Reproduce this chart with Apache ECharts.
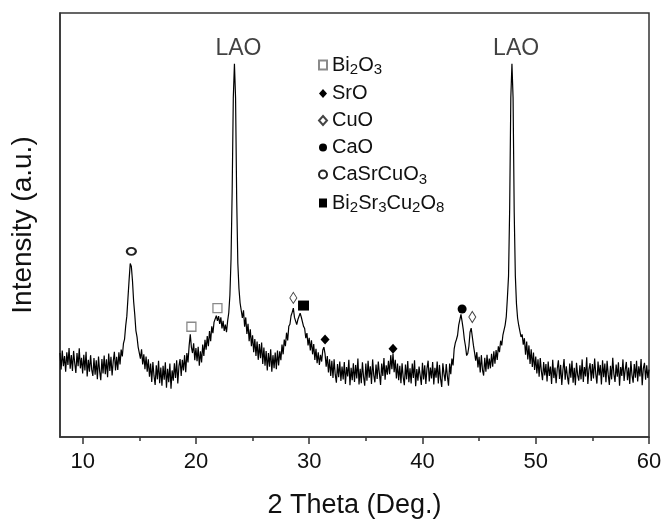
<!DOCTYPE html>
<html>
<head>
<meta charset="utf-8">
<script src="https://cdn.jsdelivr.net/npm/echarts@6/dist/echarts.min.js"></script>
<style>
html,body{margin:0;padding:0;background:#fff;}
#chart{width:666px;height:524px;}
</style>
</head>
<body>
<div id="chart"></div>
<script>
// ---- Data ----
const twoThetaStart = 8.0;
const twoThetaStep = 0.1;
// intensity (a.u.), one value every 0.1 deg from 8.0 to 60.0
const intensity = [
  /* 8 */ 19.8,15.9,20.4,16.7,19.1,15.4,20.0,17.0,21.0,16.1,
  /* 9 */ 19.3,15.6,20.3,17.4,15.1,19.8,16.7,20.9,16.2,18.7,
  /*10 */ 15.0,19.4,15.7,20.1,14.3,18.2,15.4,19.3,15.9,14.4,
  /*11 */ 18.6,14.7,18.1,13.6,19.0,15.5,13.4,18.4,15.0,19.2,
  /*12 */ 14.8,18.3,14.1,19.7,15.6,18.9,14.5,17.8,20.1,15.7,
  /*13 */ 18.9,15.8,20.0,17.1,20.6,19.0,22.0,23.1,26.2,28.5,
  /*14 */ 32.8,37.0,40.9,40.2,36.8,32.0,28.9,25.1,23.6,21.2,
  /*15 */ 21.2,18.5,20.7,17.1,19.5,16.0,19.0,15.4,18.3,14.2,
  /*16 */ 17.3,13.0,17.7,14.4,12.3,16.9,13.6,18.0,12.7,16.4,
  /*17 */ 12.1,16.8,13.5,17.6,11.6,16.1,12.9,17.3,11.4,15.7,
  /*18 */ 13.3,17.4,13.9,18.1,12.6,16.7,18.4,14.4,18.2,15.7,
  /*19 */ 19.3,15.3,19.8,17.6,21.5,24.2,21.2,19.8,22.1,18.1,
  /*20 */ 21.0,17.9,21.3,16.8,20.2,17.6,21.8,19.1,22.9,20.6,
  /*21 */ 23.8,21.4,25.0,22.6,26.1,24.5,27.1,26.9,28.6,27.4,
  /*22 */ 28.5,26.7,28.2,25.6,27.4,25.0,26.5,24.7,27.4,29.3,
  /*23 */ 33.5,42.0,58.0,80.0,88.0,80.0,56.0,41.0,35.0,31.6,
  /*24 */ 31.4,28.1,29.9,26.0,28.2,24.3,26.7,22.6,25.4,21.4,
  /*25 */ 24.0,20.0,23.1,19.1,22.5,18.2,21.9,18.6,22.3,17.2,
  /*26 */ 21.1,16.8,20.3,15.7,19.8,16.6,20.7,15.4,19.3,16.2,
  /*27 */ 19.9,16.0,20.4,16.9,20.2,18.1,21.8,19.5,23.0,21.4,
  /*28 */ 24.6,22.8,26.1,26.6,28.6,29.4,30.4,28.2,27.9,26.5,
  /*29 */ 27.7,27.7,29.2,28.3,28.6,26.1,25.6,23.3,24.5,21.6,
  /*30 */ 23.4,20.4,22.8,19.5,21.9,18.2,20.8,17.4,20.0,17.0,
  /*31 */ 19.4,17.8,20.5,21.2,19.6,16.6,19.1,15.2,18.3,14.4,
  /*32 */ 18.0,13.9,18.3,14.7,12.8,17.2,14.1,17.8,13.2,16.6,
  /*33 */ 13.6,17.7,12.5,16.5,14.3,18.2,12.2,16.3,13.4,17.4,
  /*34 */ 13.0,17.0,13.8,18.5,12.4,16.1,12.7,17.6,14.2,12.1,
  /*35 */ 17.3,13.3,18.0,14.0,16.7,12.5,18.3,14.6,12.9,17.1,
  /*36 */ 13.7,17.8,14.9,12.3,17.3,14.4,18.6,13.5,16.9,14.7,
  /*37 */ 18.0,14.8,19.3,16.0,19.7,15.3,18.2,13.8,17.3,13.4,
  /*38 */ 16.8,12.7,17.4,14.1,12.2,17.1,13.6,17.9,12.9,16.2,
  /*39 */ 12.6,17.3,13.9,18.1,12.0,16.0,13.3,16.6,14.5,12.3,
  /*40 */ 17.5,13.6,16.9,12.5,16.2,18.0,13.1,16.4,13.8,17.7,
  /*41 */ 12.4,16.3,14.0,17.8,12.6,17.0,13.7,11.8,17.4,14.9,
  /*42 */ 13.2,17.2,14.3,12.1,17.3,14.8,18.5,16.9,20.8,22.2,
  /*43 */ 23.0,24.0,26.4,26.8,28.9,27.2,25.4,23.0,21.4,19.2,
  /*44 */ 19.7,21.4,24.7,25.7,25.8,21.6,19.9,18.0,20.0,16.4,
  /*45 */ 18.9,15.2,19.3,15.8,14.5,18.7,15.4,19.4,16.0,18.5,
  /*46 */ 16.2,19.6,16.6,20.2,17.3,20.5,18.2,21.4,20.0,22.7,
  /*47 */ 21.6,24.0,23.8,26.4,28.4,32.9,38.0,54.0,80.0,88.0,
  /*48 */ 80.0,53.0,38.0,31.4,28.0,26.3,26.0,23.6,24.2,21.8,
  /*49 */ 23.3,19.4,22.5,18.3,21.6,17.2,20.7,16.5,19.9,15.8,
  /*50 */ 19.0,15.0,18.3,14.2,18.6,15.5,13.4,17.7,14.5,17.2,
  /*51 */ 13.1,17.8,14.4,16.6,12.5,18.2,13.9,16.4,12.7,16.1,
  /*52 */ 18.1,13.7,17.0,12.3,15.8,18.4,13.5,16.7,14.2,12.4,
  /*53 */ 17.3,14.0,18.0,12.8,16.3,12.2,17.5,14.6,13.3,16.9,
  /*54 */ 13.6,18.3,13.0,16.5,14.3,18.8,12.5,16.0,17.4,13.2,
  /*55 */ 17.2,13.8,18.5,14.9,12.6,17.8,14.5,17.0,12.4,18.1,
  /*56 */ 14.1,17.3,12.9,18.0,14.7,12.3,16.8,13.6,18.7,14.8,
  /*57 */ 13.0,17.1,14.2,17.6,12.1,16.5,14.4,18.3,13.2,15.9,
  /*58 */ 17.7,13.4,16.4,12.5,17.9,14.6,12.8,17.2,14.0,18.0,
  /*59 */ 13.1,16.7,14.3,18.4,12.2,16.2,17.5,13.5,16.9,13.9,
  /*60 */ 15.9
];

// Phase markers [2theta, intensity]
const phaseNames = ['Bi2O3', 'SrO', 'CuO', 'CaO', 'CaSrCuO3', 'Bi2Sr3Cu2O8'];
const bi2o3Marks = [[19.6, 26.0], [21.9, 30.4]];
const sroMarks = [[31.4, 23.0], [37.4, 20.8]];
const cuoMarks = [[28.6, 32.8], [44.4, 28.3]];
const caoMarks = [[43.5, 30.2]];
const caSrCuO3Marks = [[14.3, 43.8]];
const bi2Sr3Cu2O8Marks = [[29.5, 31.0]];

// LAO substrate labels [2theta, intensity]
const laoLabels = [[23.75, 91.5], [48.27, 91.5]];

// Axis ticks
const xMajorTicks = [10, 20, 30, 40, 50, 60];
const xMinorTicks = [15, 25, 35, 45, 55];

// ---- Chart ----
const FONT = 'Liberation Sans, Arial, Helvetica, sans-serif';
const INK = '#000';
const AXIS = '#333';

const pattern = intensity.map((v, i) => [+(twoThetaStart + i * twoThetaStep).toFixed(1), v]);

const chart = echarts.init(document.getElementById('chart'), null, { renderer: 'canvas' });

function markerSeries(name, data, symbol, size, fill, border, bw) {
  return {
    name: name,
    type: 'scatter',
    data: data,
    symbol: symbol,
    symbolSize: size,
    z: 5,
    itemStyle: { color: fill, borderColor: border, borderWidth: bw, opacity: 1 },
    emphasis: { disabled: true },
    silent: true
  };
}

const option = {
  animation: false,
  backgroundColor: '#fff',
  textStyle: { fontFamily: FONT },
  grid: {
    left: 60, right: 17, top: 13, bottom: 84,
    show: true, borderColor: AXIS, borderWidth: 1.5, backgroundColor: 'transparent'
  },
  legend: {
    orient: 'vertical',
    left: 313,
    top: 49,
    itemWidth: 8,
    itemHeight: 9,
    itemGap: 5,
    selectedMode: false,
    data: phaseNames,
    formatter: function (name) { return name.replace(/(\d)/g, '{s|$1}'); },
    textStyle: {
      fontFamily: FONT, fontSize: 20, color: '#111', lineHeight: 22,
      rich: {
        s: { fontFamily: FONT, fontSize: 15, color: '#111', padding: [10, 0, 0, 0] }
      }
    }
  },
  xAxis: [
    {
      type: 'value',
      min: 8, max: 60,
      name: '2 Theta (Deg.)',
      nameLocation: 'middle',
      nameGap: 55,
      nameTextStyle: { fontFamily: FONT, fontSize: 27, color: '#111' },
      axisLine: { show: true, onZero: false, lineStyle: { color: AXIS, width: 1.5 } },
      axisTick: { show: true, inside: false, length: 7, customValues: xMajorTicks, lineStyle: { color: AXIS, width: 1.5 } },
      axisLabel: { show: true, customValues: xMajorTicks, margin: 14, fontFamily: FONT, fontSize: 22, color: '#111' },
      splitLine: { show: false }
    },
    {
      type: 'value',
      min: 8, max: 60,
      position: 'bottom',
      axisLine: { show: false },
      axisTick: { show: true, inside: false, length: 4, customValues: xMinorTicks, lineStyle: { color: AXIS, width: 1.5 } },
      axisLabel: { show: false },
      splitLine: { show: false }
    }
  ],
  yAxis: {
    type: 'value',
    min: 0, max: 100,
    name: 'Intensity (a.u.)',
    nameLocation: 'middle',
    nameGap: 23,
    nameTextStyle: { fontFamily: FONT, fontSize: 28, color: '#111' },
    axisLine: { show: true, onZero: false, lineStyle: { color: AXIS, width: 1.5 } },
    axisTick: { show: false },
    axisLabel: { show: false },
    splitLine: { show: false }
  },
  series: [
    {
      name: 'pattern',
      type: 'line',
      data: pattern,
      showSymbol: false,
      symbol: 'none',
      sampling: null,
      lineStyle: { color: INK, width: 1.2 },
      z: 3,
      silent: true
    },
    markerSeries('Bi2O3', bi2o3Marks, 'rect', 9, '#fff', '#8a8a8a', 1.3),
    markerSeries('SrO', sroMarks, 'diamond', [9, 10], '#000', '#000', 0),
    markerSeries('CuO', cuoMarks, 'diamond', [7, 11], '#fff', '#444', 1),
    markerSeries('CaO', caoMarks, 'circle', 9, '#000', '#000', 0),
    markerSeries('CaSrCuO3', caSrCuO3Marks, 'circle', [9, 7], '#fff', '#222', 2),
    markerSeries('Bi2Sr3Cu2O8', bi2Sr3Cu2O8Marks, 'rect', [11, 10], '#000', '#000', 0),
    {
      name: 'LAO',
      type: 'scatter',
      data: laoLabels,
      symbolSize: 0,
      silent: true,
      z: 6,
      label: {
        show: true, position: 'inside', formatter: 'LAO',
        fontFamily: FONT, fontSize: 23, color: '#111'
      }
    }
  ]
};

chart.setOption(option);
</script>
</body>
</html>
